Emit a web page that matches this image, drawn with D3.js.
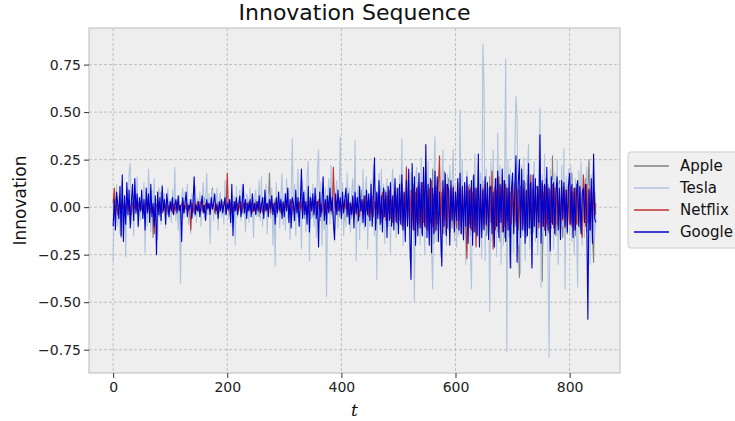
<!DOCTYPE html>
<html>
<head>
<meta charset="utf-8">
<script src="https://cdn.jsdelivr.net/npm/d3@7"></script>
<style>
  body { margin: 0; background: #ffffff; }
  svg { display: block; font-family: "DejaVu Sans", sans-serif; }
</style>
</head>
<body>
<svg id="chart" width="735" height="421"></svg>
<script>
"use strict";

// time step of every sample (one sample every 2 steps)
var tValues = d3.range(0, 848, 2);
var names = ["Apple", "Tesla", "Netflix", "Google"];
var xTicks = [0, 200, 400, 600, 800];
var yTicks = [-0.75, -0.5, -0.25, 0, 0.25, 0.5, 0.75];

var apple = [
  0.01, -0.03, 0.05, -0.02, 0.04, -0.06, 0.03, -0.16, 0.07, -0.04, 0.02, -0.05, 0.06, -0.01, 0.03, -0.07, 0.04, -0.02, 0.05, -0.03, 0.01, 0.06, -0.04, 0.02, -0.01,
  0.03, -0.05, 0.02, 0.04, -0.03, 0.06, -0.02, 0.01, -0.04, 0.05, -0.16, 0.03, -0.02, 0.04, -0.01, 0.02, -0.05, 0.08, -0.03, 0.02, 0.04, -0.02, 0.01, -0.04, 0.03,
  -0.02, 0.04, -0.03, 0.02, 0.05, -0.04, 0.01, -0.02, 0.03, -0.05, 0.02, 0.04, -0.03, 0.01, -0.02, 0.06, -0.04, 0.02, 0.03, -0.01, 0.04, -0.03, 0.02, -0.05, 0.03,
  0.01, -0.03, 0.04, -0.02, 0.02, 0.05, -0.04, 0.03, -0.01, 0.02, -0.03, 0.04, 0.1, -0.02, 0.01, -0.04, 0.03, 0.02, -0.03, 0.05, -0.02, 0.01, 0.03, -0.04, 0.02,
  -0.01, 0.03, -0.04, 0.02, 0.05, -0.03, 0.01, -0.02, 0.04, -0.05, 0.03, 0.02, -0.01, 0.04, -0.03, 0.02, -0.04, 0.06, -0.02, 0.01, 0.03, -0.03, 0.05, -0.02, 0.01,
  0.04, -0.03, 0.02, -0.05, 0.06, -0.02, 0.03, -0.04, 0.01, 0.05, -0.03, 0.02, 0.18, -0.04, 0.03, -0.06, 0.02, 0.04, -0.05, 0.01, 0.03, -0.02, 0.05, -0.04, 0.02,
  -0.03, 0.05, -0.02, 0.04, -0.06, 0.03, 0.01, -0.04, 0.06, -0.03, 0.02, 0.05, -0.05, 0.03, -0.02, 0.07, -0.04, 0.02, -0.06, 0.04, 0.01, -0.03, 0.05, -0.02, 0.03,
  -0.05, 0.04, -0.02, 0.06, -0.04, 0.02, 0.05, -0.07, 0.03, -0.02, 0.04, -0.05, 0.06, -0.03, 0.02, 0.05, -0.04, 0.03, -0.06, 0.02, 0.04, -0.03, 0.07, -0.05, 0.02,
  0.06, -0.04, 0.03, -0.07, 0.05, -0.02, 0.08, -0.05, 0.03, -0.06, 0.04, 0.07, -0.03, 0.05, -0.08, 0.02, 0.06, -0.04, 0.09, -0.06, 0.03, -0.05, 0.07, -0.03, 0.04,
  -0.07, 0.08, -0.04, 0.1, -0.06, 0.05, -0.09, 0.07, -0.03, 0.11, -0.08, 0.04, -0.06, 0.09, -0.05, 0.07, -0.1, 0.06, -0.04, 0.08, -0.07, 0.12, -0.05, 0.06, -0.09,
  0.1, -0.07, 0.13, -0.1, 0.08, -0.12, 0.06, 0.11, -0.09, 0.14, -0.13, 0.07, -0.1, 0.12, -0.16, 0.09, -0.08, 0.13, -0.11, 0.1, -0.14, 0.08, 0.12, -0.1, 0.15,
  -0.12, 0.1, -0.15, 0.08, -0.11, 0.2, -0.19, 0.12, -0.09, 0.14, -0.12, 0.1, -0.17, 0.13, -0.08, 0.19, -0.14, 0.11, -0.1, 0.15, -0.13, 0.09, -0.11, 0.12, -0.08,
  0.11, -0.14, 0.09, -0.12, 0.15, -0.1, 0.13, -0.16, 0.08, -0.11, 0.14, -0.09, 0.12, -0.15, 0.1, -0.13, 0.16, -0.1, 0.09, -0.14, 0.12, -0.17, 0.1, -0.12, 0.14,
  -0.11, 0.13, -0.15, 0.1, -0.12, 0.16, -0.09, 0.12, -0.14, 0.11, -0.1, 0.15, -0.13, 0.09, -0.18, 0.12, -0.1, 0.14, -0.16, 0.11, -0.12, 0.1, -0.15, 0.13, -0.09,
  0.12, -0.14, 0.16, -0.1, 0.13, -0.15, -0.37, 0.11, -0.12, 0.14, -0.1, 0.13, -0.16, 0.17, -0.11, 0.12, -0.14, 0.1, -0.13, 0.15, -0.09, 0.11, -0.16, 0.12, -0.1,
  0.13, -0.39, 0.11, -0.12, 0.15, -0.1, 0.12, -0.14, 0.09, -0.11, 0.27, -0.13, 0.1, -0.15, 0.12, -0.09, 0.14, -0.12, 0.1, -0.16, 0.13, -0.1, 0.11, -0.14, 0.12,
  -0.1, 0.14, 0.18, -0.12, 0.1, -0.15, 0.12, -0.09, 0.13, -0.11, 0.1, -0.14, 0.12, -0.1, 0.15, -0.13, 0.11, 0.25, -0.12, 0.1, -0.14, -0.29, 0.08, -0.04
];

var tesla = [
  -0.29, 0.05, -0.08, 0.12, -0.1, 0.06, -0.14, 0.09, 0.14, -0.12, 0.04, -0.26, 0.1, -0.05, 0.18, 0.23, -0.09, 0.07, -0.15, 0.11, -0.04, 0.16, -0.11, 0.02, -0.07,
  0.08, -0.06, 0.13, -0.24, 0.05, -0.1, 0.2, 0.03, -0.13, 0.09, -0.05, 0.15, -0.08, 0.04, -0.17, 0.1, 0.06, -0.09, 0.12, -0.03, 0.07, -0.11, 0.05, 0.1, -0.06,
  0.04, -0.08, 0.09, -0.04, 0.21, -0.07, 0.03, -0.12, 0.06, -0.4, 0.05, 0.1, -0.06, 0.08, -0.03, 0.12, -0.09, 0.04, -0.14, 0.07, 0.02, -0.05, 0.11, -0.08, 0.05,
  -0.03, 0.08, -0.1, 0.05, 0.13, -0.06, 0.02, 0.18, -0.04, 0.07, -0.19, 0.03, 0.09, -0.07, 0.04, -0.02, 0.1, -0.12, 0.05, 0.08, -0.05, 0.03, -0.09, 0.14, -0.04,
  0.15, -0.06, 0.04, -0.1, 0.08, -0.03, 0.06, -0.2, 0.11, -0.05, 0.03, 0.09, -0.07, 0.12, -0.04, 0.02, -0.13, 0.07, 0.05, -0.08, 0.1, -0.03, 0.04, -0.16, 0.06,
  0.09, -0.05, 0.03, 0.14, -0.07, 0.16, -0.1, 0.05, -0.03, 0.12, -0.14, 0.07, 0.02, -0.06, 0.1, -0.2, 0.04, -0.31, 0.13, -0.05, 0.08, -0.11, 0.06, 0.18, -0.09,
  0.07, -0.12, 0.15, -0.06, 0.1, -0.17, 0.04, 0.36, -0.08, 0.12, -0.15, 0.06, 0.2, -0.1, 0.03, -0.22, 0.14, -0.05, 0.09, -0.13, 0.17, 0.24, -0.28, 0.08, -0.06,
  0.12, -0.1, 0.05, -0.16, 0.19, 0.3, -0.07, 0.13, -0.2, 0.08, -0.12, 0.1, -0.47, 0.06, 0.15, -0.09, 0.22, -0.05, 0.11, -0.18, 0.07, 0.14, -0.11, 0.04, 0.37,
  -0.08, 0.13, -0.15, 0.06, -0.1, 0.18, -0.04, 0.1, -0.13, 0.08, 0.15, -0.06, 0.35, -0.28, 0.07, 0.12, -0.17, 0.05, -0.09, 0.2, -0.12, 0.09, 0.16, -0.22, 0.06,
  -0.1, 0.14, -0.07, 0.22, -0.15, 0.1, -0.38, 0.08, 0.18, -0.12, 0.2, -0.05, 0.12, -0.19, 0.07, 0.15, -0.1, 0.05, -0.24, 0.11, 0.2, -0.08, 0.14, -0.16, 0.09,
  -0.13, 0.17, -0.06, 0.36, -0.2, 0.1, -0.15, 0.22, -0.09, 0.13, -0.28, 0.18, -0.1, 0.08, -0.5, 0.15, 0.21, -0.12, 0.1, -0.2, 0.26, -0.08, 0.14, -0.25, 0.19,
  -0.11, 0.24, -0.16, 0.09, -0.22, -0.43, 0.15, 0.37, -0.18, 0.11, -0.09, 0.2, -0.26, 0.13, 0.3, -0.14, 0.08, -0.2, 0.17, -0.12, 0.22, -0.07, 0.14, 0.3, -0.18,
  0.12, -0.21, 0.09, -0.15, 0.51, -0.1, 0.25, -0.18, 0.13, -0.3, 0.19, -0.12, 0.07, -0.24, -0.43, 0.16, -0.08, 0.28, -0.2, 0.11, 0.23, -0.16, 0.18, -0.27, 0.86,
  0.65, -0.28, 0.2, -0.14, 0.1, -0.55, 0.24, -0.18, 0.3, -0.12, 0.15, -0.26, 0.39, -0.1, 0.22, -0.3, 0.17, -0.2, 0.12, 0.78, -0.76, 0.25, -0.16, 0.2, -0.32,
  0.18, -0.24, 0.3, 0.58, 0.47, -0.2, 0.14, -0.35, 0.22, -0.15, 0.26, -0.28, 0.1, 0.19, 0.33, -0.22, 0.15, -0.3, 0.12, 0.24, -0.18, 0.09, -0.25, 0.2, 0.52,
  -0.42, 0.17, -0.2, 0.28, -0.12, 0.15, -0.26, -0.79, 0.2, -0.1, 0.14, -0.22, 0.18, -0.08, 0.25, -0.3, 0.12, -0.15, 0.22, -0.1, 0.31, -0.43, 0.16, -0.12, 0.2,
  -0.14, 0.22, -0.18, 0.1, -0.25, 0.15, -0.08, -0.42, 0.19, -0.12, 0.24, -0.2, 0.13, -0.16, 0.08, 0.21, -0.22, 0.11, -0.3, 0.17, -0.1, 0.26, -0.15, -0.05
];

var netflix = [
  0.02, 0.1, -0.02, 0.03, -0.04, 0.01, 0.02, -0.03, 0.04, -0.01, 0.02, -0.03, 0.01, 0.03, -0.02, 0.01, -0.04, 0.02, 0.03, -0.01, 0.02, -0.02, 0.01, 0.03, -0.02,
  0.01, -0.03, 0.02, -0.01, 0.03, -0.02, 0.01, 0.02, -0.03, 0.01, -0.02, -0.14, 0.02, 0.01, -0.02, 0.03, -0.01, 0.02, -0.03, 0.01, 0.02, -0.01, 0.03, -0.02, 0.01,
  -0.01, 0.02, -0.03, 0.01, 0.02, -0.02, 0.03, -0.01, 0.01, -0.02, 0.02, 0.03, -0.03, 0.01, -0.01, 0.02, -0.02, 0.01, -0.12, 0.02, 0.01, -0.03, 0.02, -0.01, 0.03,
  -0.02, 0.01, 0.03, -0.02, 0.01, -0.03, 0.02, -0.01, 0.02, 0.01, -0.02, 0.03, -0.01, 0.02, -0.03, 0.01, 0.02, -0.02, 0.01, -0.01, 0.03, -0.02, 0.01, 0.02, -0.03,
  0.18, -0.02, 0.01, 0.02, -0.03, 0.01, -0.02, 0.03, -0.01, 0.02, -0.02, 0.01, 0.03, -0.03, 0.02, -0.01, 0.01, 0.02, -0.02, 0.03, -0.01, 0.02, -0.03, 0.01, -0.02,
  0.02, -0.01, 0.03, -0.02, 0.01, 0.02, -0.03, 0.01, -0.02, 0.02, 0.01, -0.01, 0.04, -0.03, 0.02, -0.02, 0.01, 0.03, -0.02, 0.01, -0.01, 0.02, -0.03, 0.02, 0.01,
  -0.02, 0.03, -0.01, 0.02, -0.03, 0.01, 0.04, -0.02, 0.01, -0.03, 0.02, 0.01, -0.02, 0.03, -0.01, 0.02, -0.04, 0.01, 0.03, -0.02, 0.01, -0.03, 0.02, 0.04, -0.01,
  0.02, -0.03, 0.01, 0.03, -0.02, 0.04, -0.01, 0.02, -0.03, 0.01, 0.02, -0.04, 0.03, -0.01, 0.02, -0.02, 0.03, -0.03, 0.21, 0.02, -0.01, 0.03, -0.02, 0.01, 0.04,
  -0.03, 0.02, -0.02, 0.04, -0.01, 0.03, -0.04, 0.02, 0.01, -0.03, 0.05, -0.02, 0.03, -0.04, 0.02, 0.01, -0.05, 0.03, -0.02, 0.04, -0.03, 0.06, -0.02, 0.03, -0.05,
  0.04, -0.03, 0.06, -0.05, 0.03, -0.02, 0.07, -0.04, 0.05, -0.06, 0.03, 0.08, -0.05, 0.04, -0.07, 0.06, -0.03, 0.09, -0.06, 0.04, -0.08, 0.05, 0.1, -0.07, 0.06,
  -0.09, 0.08, -0.06, 0.12, -0.1, 0.07, -0.05, 0.21, -0.08, 0.06, -0.11, 0.09, -0.07, 0.1, -0.12, 0.08, -0.06, 0.11, -0.09, 0.07, -0.1, 0.13, -0.08, 0.06, -0.11,
  0.09, -0.12, 0.1, -0.08, 0.14, -0.1, 0.07, -0.13, 0.11, -0.09, 0.12, 0.27, -0.1, 0.08, -0.14, 0.1, -0.07, 0.12, -0.11, 0.09, -0.13, 0.1, -0.06, 0.11, -0.09,
  0.08, -0.11, 0.13, -0.07, 0.1, -0.14, 0.09, -0.1, 0.12, -0.08, -0.27, 0.11, -0.09, 0.1, -0.12, 0.08, -0.13, 0.1, -0.21, 0.09, 0.12, -0.1, 0.08, -0.11, 0.1,
  -0.09, 0.12, -0.1, 0.08, -0.13, 0.11, -0.08, 0.19, -0.22, 0.1, -0.12, 0.09, -0.1, 0.16, -0.08, 0.11, -0.13, 0.09, -0.1, 0.12, -0.07, 0.1, -0.12, 0.08, -0.09,
  0.11, -0.1, 0.13, -0.08, 0.1, -0.12, 0.09, -0.11, 0.12, -0.09, 0.1, -0.13, 0.08, -0.1, 0.11, -0.07, 0.17, -0.12, 0.09, -0.1, 0.12, -0.08, 0.1, -0.11, 0.09,
  0.12, -0.1, 0.08, -0.12, 0.11, -0.09, 0.1, -0.13, 0.09, -0.08, 0.12, -0.11, 0.1, -0.09, 0.13, -0.1, 0.08, -0.12, 0.11, -0.07, 0.1, -0.11, 0.09, -0.1, 0.12,
  -0.09, 0.11, -0.1, 0.08, -0.12, 0.1, -0.09, 0.12, -0.08, 0.1, -0.11, -0.16, 0.17, 0.09, -0.1, 0.12, -0.08, 0.1, -0.12, 0.09, -0.07, 0.1, -0.05, 0.02
];

var google = [
  -0.1, 0.04, -0.12, 0.08, 0.02, -0.06, 0.11, -0.15, 0.17, -0.18, 0.06, -0.09, 0.13, -0.04, 0.09, -0.11, 0.03, 0.12, -0.07, 0.15, -0.03, 0.07, -0.1, 0.05, -0.02,
  0.09, -0.06, 0.04, -0.12, 0.1, -0.03, 0.07, -0.08, 0.12, -0.05, 0.02, -0.1, 0.06, -0.25, 0.08, -0.04, 0.05, -0.07, 0.11, -0.02, 0.04, -0.09, 0.07, 0.01, -0.05,
  0.03, -0.02, 0.05, -0.04, 0.01, 0.04, -0.03, 0.06, -0.02, 0.01, -0.18, 0.05, -0.03, 0.02, 0.08, -0.05, 0.01, -0.01, 0.04, -0.06, 0.02, 0.16, -0.04, 0.01, -0.02,
  0.03, -0.05, 0.01, 0.06, -0.03, 0.01, -0.07, 0.04, -0.01, 0.02, -0.04, 0.05, -0.01, 0.02, 0.07, -0.02, 0.01, -0.06, 0.03, -0.02, 0.04, -0.03, 0.01, 0.05, -0.04,
  0.02, -0.01, 0.04, -0.08, 0.12, -0.15, 0.03, -0.02, 0.05, -0.04, 0.01, 0.06, -0.05, 0.01, 0.12, -0.03, 0.04, -0.06, 0.02, -0.02, 0.04, -0.05, 0.07, -0.02, 0.02,
  -0.04, 0.03, -0.02, 0.06, -0.03, 0.01, 0.05, -0.06, 0.09, -0.02, 0.02, -0.05, 0.04, -0.01, 0.06, -0.04, 0.02, -0.09, 0.05, -0.03, 0.08, -0.02, 0.04, -0.06, 0.03,
  -0.05, 0.07, -0.02, 0.1, -0.08, 0.04, -0.11, 0.05, 0.02, -0.07, 0.09, -0.03, 0.05, -0.1, 0.02, 0.2, -0.06, 0.08, -0.04, 0.03, -0.09, 0.11, -0.13, 0.05, -0.02,
  0.07, -0.04, 0.1, -0.06, 0.03, -0.21, 0.08, -0.05, 0.02, 0.16, -0.07, 0.04, -0.09, 0.06, -0.03, 0.1, -0.02, 0.05, -0.08, -0.17, 0.07, -0.04, 0.09, -0.02, 0.05,
  -0.06, 0.08, -0.03, 0.04, 0.1, -0.05, 0.07, -0.09, 0.02, -0.04, 0.06, -0.11, 0.08, -0.03, 0.05, -0.07, 0.11, -0.02, 0.04, -0.08, 0.06, -0.1, 0.09, -0.04, 0.07,
  -0.07, 0.12, -0.1, 0.05, 0.26, -0.12, 0.08, -0.06, 0.14, -0.09, 0.06, -0.13, 0.1, -0.05, 0.08, -0.16, 0.11, -0.07, 0.13, -0.1, 0.06, -0.12, 0.15, -0.08, 0.1,
  -0.14, 0.12, -0.09, 0.17, -0.12, 0.08, -0.18, 0.14, -0.1, 0.2, -0.15, -0.38, 0.23, -0.12, 0.16, -0.2, 0.1, -0.15, 0.18, -0.11, 0.13, -0.15, 0.21, -0.1, 0.33,
  -0.16, 0.12, -0.2, 0.15, -0.24, 0.1, -0.14, 0.19, -0.12, 0.16, -0.18, 0.08, -0.13, -0.31, 0.14, -0.1, 0.18, -0.15, 0.12, 0.09, -0.2, 0.14, -0.07, 0.1, -0.13,
  0.08, -0.07, 0.15, -0.12, 0.18, -0.14, 0.11, -0.17, 0.13, -0.1, 0.16, -0.19, 0.09, -0.11, 0.14, -0.2, 0.17, -0.13, 0.1, -0.15, 0.28, -0.21, 0.12, -0.16, 0.09,
  -0.12, 0.16, -0.09, 0.13, -0.17, 0.1, 0.11, -0.14, 0.08, -0.21, 0.15, -0.1, 0.19, -0.16, 0.12, -0.08, 0.2, -0.13, 0.14, -0.18, 0.1, -0.12, 0.17, -0.32, 0.09,
  0.18, -0.14, 0.1, 0.27, -0.29, 0.12, 0.25, -0.16, 0.2, -0.12, 0.14, -0.19, 0.09, -0.15, 0.23, -0.11, 0.13, -0.32, 0.17, -0.1, 0.15, -0.16, 0.11, -0.08, 0.38,
  -0.19, 0.14, -0.1, 0.12, -0.15, 0.21, -0.12, 0.1, -0.23, 0.16, -0.09, 0.13, -0.14, 0.08, 0.16, -0.12, 0.1, -0.17, 0.14, -0.06, 0.13, -0.1, 0.09, -0.13, 0.11,
  0.18, -0.09, 0.12, -0.16, 0.1, -0.12, 0.08, 0.14, -0.1, 0.11, -0.14, 0.07, 0.1, -0.08, 0.12, -0.06, -0.59, 0.09, -0.12, 0.15, -0.19, 0.28, -0.06, -0.08
];

var seriesValues = [apple, tesla, netflix, google];
var colors = ["#808080", "#b0c4de", "#c0302c", "#0000cd"];

// plot area (pixels)
var plotLeft = 89, plotRight = 620, plotTop = 28, plotBottom = 373;

var svg = d3.select("#chart");

// x range padded by 5% like matplotlib
var tExt = d3.extent(tValues);
var tPad = (tExt[1] - tExt[0]) * 0.05;
var x = d3.scaleLinear()
  .domain([tExt[0] - tPad, tExt[1] + tPad])
  .range([plotLeft, plotRight]);

var allVals = d3.merge(seriesValues);
var vExt = d3.extent(allVals);
var vPad = (vExt[1] - vExt[0]) * 0.05;
var y = d3.scaleLinear()
  .domain([vExt[0] - vPad, vExt[1] + vPad])
  .range([plotBottom, plotTop]);

// background
svg.append("rect")
  .attr("x", plotLeft)
  .attr("y", plotTop)
  .attr("width", plotRight - plotLeft)
  .attr("height", plotBottom - plotTop)
  .attr("fill", "#eeeeee");

// grid
var grid = svg.append("g")
  .attr("stroke", "#b2b2b2")
  .attr("stroke-width", 0.8)
  .attr("stroke-dasharray", "3,2");

grid.selectAll(".gx")
  .data(xTicks)
  .enter()
  .append("line")
  .attr("x1", function(d) { return x(d); })
  .attr("x2", function(d) { return x(d); })
  .attr("y1", plotTop)
  .attr("y2", plotBottom);

grid.selectAll(".gy")
  .data(yTicks)
  .enter()
  .append("line")
  .attr("x1", plotLeft)
  .attr("x2", plotRight)
  .attr("y1", function(d) { return y(d); })
  .attr("y2", function(d) { return y(d); });

// clip to plot area
svg.append("clipPath")
  .attr("id", "plotClip")
  .append("rect")
  .attr("x", plotLeft)
  .attr("y", plotTop)
  .attr("width", plotRight - plotLeft)
  .attr("height", plotBottom - plotTop);

var line = d3.line()
  .x(function(d, i) { return x(tValues[i]); })
  .y(function(d) { return y(d); });

svg.append("g")
  .attr("clip-path", "url(#plotClip)")
  .selectAll("path")
  .data(seriesValues)
  .enter()
  .append("path")
  .attr("d", line)
  .attr("fill", "none")
  .attr("stroke", function(d, i) { return colors[i]; })
  .attr("stroke-width", 1.1)
  .attr("stroke-linejoin", "round");

// frame
svg.append("rect")
  .attr("x", plotLeft)
  .attr("y", plotTop)
  .attr("width", plotRight - plotLeft)
  .attr("height", plotBottom - plotTop)
  .attr("fill", "none")
  .attr("stroke", "#bcbcbc")
  .attr("stroke-width", 1);

// axes
var xAxis = svg.append("g")
  .attr("transform", "translate(0," + plotBottom + ")")
  .call(d3.axisBottom(x).tickValues(xTicks).tickSize(5).tickPadding(4));

var yAxis = svg.append("g")
  .attr("transform", "translate(" + plotLeft + ",0)")
  .call(d3.axisLeft(y).tickValues(yTicks).tickFormat(d3.format(".2f")).tickSize(5).tickPadding(3));

[xAxis, yAxis].forEach(function(a) {
  a.select(".domain").remove();
  a.selectAll(".tick line").attr("stroke", "#333333");
  a.selectAll(".tick text")
    .attr("fill", "#222222")
    .style("font-family", "DejaVu Sans, sans-serif")
    .style("font-size", "14px");
});

// title and labels
svg.append("text")
  .attr("x", (plotLeft + plotRight) / 2)
  .attr("y", 20)
  .attr("text-anchor", "middle")
  .style("font-size", "22px")
  .attr("fill", "#111111")
  .text("Innovation Sequence");

svg.append("text")
  .attr("transform", "translate(26," + ((plotTop + plotBottom) / 2) + ") rotate(-90)")
  .attr("text-anchor", "middle")
  .style("font-size", "17px")
  .attr("fill", "#111111")
  .text("Innovation");

svg.append("text")
  .attr("x", (plotLeft + plotRight) / 2)
  .attr("y", 416)
  .attr("text-anchor", "middle")
  .style("font-family", "DejaVu Serif, serif")
  .style("font-style", "italic")
  .style("font-size", "17px")
  .attr("fill", "#111111")
  .text("t");

// legend
var legend = svg.append("g")
  .attr("class", "legend")
  .attr("transform", "translate(628,152)");

legend.append("rect")
  .attr("width", 120)
  .attr("height", 96)
  .attr("rx", 3)
  .attr("fill", "#f0f0f0")
  .attr("stroke", "#cccccc");

var items = legend.selectAll(".item")
  .data(names)
  .enter()
  .append("g")
  .attr("transform", function(d, i) { return "translate(0," + (14 + i * 22) + ")"; });

items.append("line")
  .attr("x1", 6)
  .attr("x2", 41)
  .attr("stroke", function(d, i) { return colors[i]; })
  .attr("stroke-width", 1.3);

items.append("text")
  .attr("x", 52)
  .attr("dy", "0.35em")
  .style("font-size", "15px")
  .attr("fill", "#111111")
  .text(function(d) { return d; });
</script>
</body>
</html>
